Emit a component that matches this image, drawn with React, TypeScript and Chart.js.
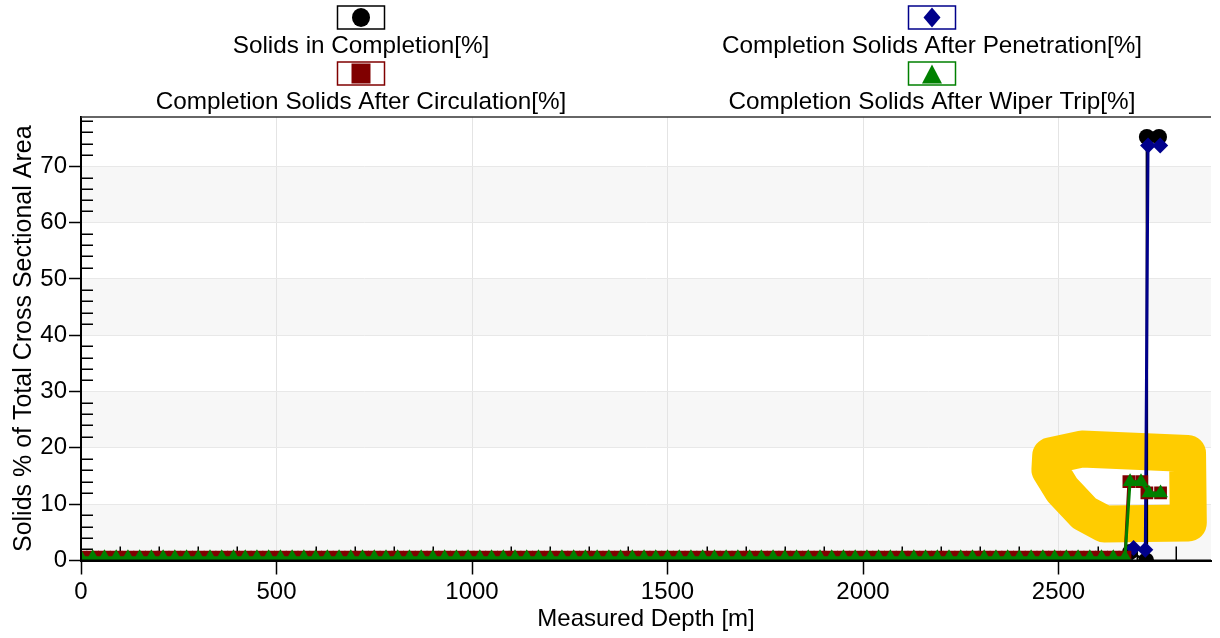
import { useEffect, useRef } from "react";
import { Chart, registerables } from "chart.js";

Chart.register(...registerables);

const FONT = "'Liberation Sans', Arial, Helvetica, sans-serif";

const legendLabels = [
  "Solids in Completion[%]",
  "Completion Solids After Penetration[%]",
  "Completion Solids After Circulation[%]",
  "Completion Solids After Wiper Trip[%]",
];
const seriesColors = ["#000000", "#00008b", "#800000", "#008000"];
const seriesStyles = ["circle", "rectRot", "rect", "triangle"];

const xTitle = "Measured Depth [m]";
const yTitle = "Solids % of Total Cross Sectional Area";

const xTicks = [0, 500, 1000, 1500, 2000, 2500];
const yTicks = [0, 10, 20, 30, 40, 50, 60, 70];
const xMinorTicks = [
  100, 200, 300, 400, 600, 700, 800, 900, 1100, 1200, 1300, 1400, 1600, 1700,
  1800, 1900, 2100, 2200, 2300, 2400, 2600, 2700, 2800,
];
const yMinorTicks = [
  2, 4, 6, 8, 12, 14, 16, 18, 22, 24, 26, 28, 32, 34, 36, 38, 42, 44, 46, 48,
  52, 54, 56, 58, 62, 64, 66, 68, 72, 74, 76, 78,
];
const shadedBandFrom = [0, 20, 40, 60];
const shadedBandTo = [10, 30, 50, 70];

// Measured depth of the regular sections [m]
const baseDepth = [
  0, 30, 60, 90, 120, 150, 180, 210, 240, 270,
  300, 330, 360, 390, 420, 450, 480, 510, 540, 570,
  600, 630, 660, 690, 720, 750, 780, 810, 840, 870,
  900, 930, 960, 990, 1020, 1050, 1080, 1110, 1140, 1170,
  1200, 1230, 1260, 1290, 1320, 1350, 1380, 1410, 1440, 1470,
  1500, 1530, 1560, 1590, 1620, 1650, 1680, 1710, 1740, 1770,
  1800, 1830, 1860, 1890, 1920, 1950, 1980, 2010, 2040, 2070,
  2100, 2130, 2160, 2190, 2220, 2250, 2280, 2310, 2340, 2370,
  2400, 2430, 2460, 2490, 2520, 2550, 2580, 2610, 2640, 2670,
];

// Solids in Completion [%]
const completionBase = [
  0, 0, 0, 0, 0, 0, 0, 0, 0, 0,
  0, 0, 0, 0, 0, 0, 0, 0, 0, 0,
  0, 0, 0, 0, 0, 0, 0, 0, 0, 0,
  0, 0, 0, 0, 0, 0, 0, 0, 0, 0,
  0, 0, 0, 0, 0, 0, 0, 0, 0, 0,
  0, 0, 0, 0, 0, 0, 0, 0, 0, 0,
  0, 0, 0, 0, 0, 0, 0, 0, 0, 0,
  0, 0, 0, 0, 0, 0, 0, 0, 0, 0,
  0, 0, 0, 0, 0, 0, 0, 0, 0, 0,
];
const completionTailDepth = [2683, 2724, 2726, 2757];
const completionTail = [1.5, 0, 75.2, 75.2];

// Completion Solids After Penetration [%]
const penetrationBase = [
  0, 0, 0, 0, 0, 0, 0, 0, 0, 0,
  0, 0, 0, 0, 0, 0, 0, 0, 0, 0,
  0, 0, 0, 0, 0, 0, 0, 0, 0, 0,
  0, 0, 0, 0, 0, 0, 0, 0, 0, 0,
  0, 0, 0, 0, 0, 0, 0, 0, 0, 0,
  0, 0, 0, 0, 0, 0, 0, 0, 0, 0,
  0, 0, 0, 0, 0, 0, 0, 0, 0, 0,
  0, 0, 0, 0, 0, 0, 0, 0, 0, 0,
  0, 0, 0, 0, 0, 0, 0, 0, 0, 0,
];
const penetrationTailDepth = [2692, 2722, 2729, 2760];
const penetrationTail = [2.2, 1.9, 73.7, 73.7];

// Completion Solids After Circulation [%]
const circulationBase = [
  0.6, 0.6, 0.6, 0.6, 0.6, 0.6, 0.6, 0.6, 0.6, 0.6,
  0.6, 0.6, 0.6, 0.6, 0.6, 0.6, 0.6, 0.6, 0.6, 0.6,
  0.6, 0.6, 0.6, 0.6, 0.6, 0.6, 0.6, 0.6, 0.6, 0.6,
  0.6, 0.6, 0.6, 0.6, 0.6, 0.6, 0.6, 0.6, 0.6, 0.6,
  0.6, 0.6, 0.6, 0.6, 0.6, 0.6, 0.6, 0.6, 0.6, 0.6,
  0.6, 0.6, 0.6, 0.6, 0.6, 0.6, 0.6, 0.6, 0.6, 0.6,
  0.6, 0.6, 0.6, 0.6, 0.6, 0.6, 0.6, 0.6, 0.6, 0.6,
  0.6, 0.6, 0.6, 0.6, 0.6, 0.6, 0.6, 0.6, 0.6, 0.6,
  0.6, 0.6, 0.6, 0.6, 0.6, 0.6, 0.6, 0.6, 0.6, 0.6,
];
const circulationTailDepth = [2680, 2713, 2726, 2761];
const circulationTail = [14, 14, 12, 12];

// Completion Solids After Wiper Trip [%]
const wiperTripBase = [
  0.5, 0.5, 0.5, 0.5, 0.5, 0.5, 0.5, 0.5, 0.5, 0.5,
  0.5, 0.5, 0.5, 0.5, 0.5, 0.5, 0.5, 0.5, 0.5, 0.5,
  0.5, 0.5, 0.5, 0.5, 0.5, 0.5, 0.5, 0.5, 0.5, 0.5,
  0.5, 0.5, 0.5, 0.5, 0.5, 0.5, 0.5, 0.5, 0.5, 0.5,
  0.5, 0.5, 0.5, 0.5, 0.5, 0.5, 0.5, 0.5, 0.5, 0.5,
  0.5, 0.5, 0.5, 0.5, 0.5, 0.5, 0.5, 0.5, 0.5, 0.5,
  0.5, 0.5, 0.5, 0.5, 0.5, 0.5, 0.5, 0.5, 0.5, 0.5,
  0.5, 0.5, 0.5, 0.5, 0.5, 0.5, 0.5, 0.5, 0.5, 0.5,
  0.5, 0.5, 0.5, 0.5, 0.5, 0.5, 0.5, 0.5, 0.5, 0.5,
];
const wiperTripTailDepth = [2683, 2711, 2731, 2761];
const wiperTripTail = [14, 14, 12, 12];

// Hand-drawn yellow highlight (in data units)
const highlightDepth = [2480, 2560, 2830, 2832, 2617, 2566, 2510, 2478];
const highlightValue = [18.6, 19.8, 19.0, 6.65, 6.5, 8.4, 12.5, 16.1];

function buildPoints(base: number[], tailDepth: number[], tail: number[]) {
  return [
    ...baseDepth.map((x, i) => ({ x, y: base[i] })),
    ...tailDepth.map((x, i) => ({ x, y: tail[i] })),
  ];
}

function drawLegendMarker(ctx: CanvasRenderingContext2D, style: string, cx: number, cy: number, color: string) {
  ctx.fillStyle = color;
  ctx.beginPath();
  if (style === "circle") {
    ctx.ellipse(cx, cy, 9, 9.5, 0, 0, Math.PI * 2);
  } else if (style === "rect") {
    ctx.rect(cx - 9.5, cy - 10, 19, 20);
  } else if (style === "rectRot") {
    ctx.moveTo(cx, cy - 10);
    ctx.lineTo(cx + 8.5, cy);
    ctx.lineTo(cx, cy + 10);
    ctx.lineTo(cx - 8.5, cy);
  } else {
    ctx.moveTo(cx, cy - 9);
    ctx.lineTo(cx + 10, cy + 10);
    ctx.lineTo(cx - 10, cy + 10);
  }
  ctx.closePath();
  ctx.fill();
}

const decorPlugin = {
  id: "decor",
  beforeDraw(chart: any) {
    const { ctx, chartArea: a, scales } = chart;
    const y = scales.y;
    ctx.save();
    ctx.fillStyle = "#ffffff";
    ctx.fillRect(0, 0, chart.width, chart.height);
    ctx.fillStyle = "#f7f7f7";
    shadedBandFrom.forEach((from, i) => {
      const y1 = y.getPixelForValue(shadedBandTo[i]);
      const y2 = y.getPixelForValue(from);
      ctx.fillRect(a.left, y1, a.right - a.left, y2 - y1);
    });
    ctx.restore();
  },
  beforeDatasetsDraw(chart: any) {
    const { ctx, chartArea: a, scales } = chart;
    const x = scales.x;
    const y = scales.y;
    ctx.save();
    // minor ticks
    ctx.strokeStyle = "#000";
    ctx.lineWidth = 1.5;
    ctx.beginPath();
    xMinorTicks.forEach((v) => {
      const px = Math.round(x.getPixelForValue(v)) + 0.25;
      ctx.moveTo(px, a.bottom);
      ctx.lineTo(px, a.bottom - 14);
    });
    yMinorTicks.forEach((v) => {
      const py = Math.round(y.getPixelForValue(v)) + 0.25;
      ctx.moveTo(a.left, py);
      ctx.lineTo(a.left + 12, py);
    });
    ctx.stroke();
    // yellow highlight
    ctx.strokeStyle = "#ffcc00";
    ctx.lineWidth = 37;
    ctx.lineJoin = "round";
    ctx.lineCap = "round";
    ctx.beginPath();
    highlightDepth.forEach((d, i) => {
      const px = x.getPixelForValue(d);
      const py = y.getPixelForValue(highlightValue[i]);
      if (i === 0) ctx.moveTo(px, py);
      else ctx.lineTo(px, py);
    });
    ctx.closePath();
    ctx.stroke();
    ctx.restore();
  },
  afterDraw(chart: any) {
    const { ctx, chartArea: a } = chart;
    ctx.save();
    // axes and frame
    ctx.strokeStyle = "#000";
    ctx.lineWidth = 2;
    ctx.beginPath();
    ctx.moveTo(a.left, a.top);
    ctx.lineTo(a.left, a.bottom);
    ctx.lineTo(a.right, a.bottom);
    ctx.stroke();
    ctx.strokeStyle = "#333";
    ctx.lineWidth = 1.5;
    ctx.beginPath();
    ctx.moveTo(a.left, a.top);
    ctx.lineTo(a.right, a.top);
    ctx.stroke();

    // legend
    const mid = (a.left + a.right) / 2;
    const colCenters = [mid - 285, mid + 286];
    const boxTops = [6, 62];
    const textYs = [46, 102];
    const boxW = 47;
    const boxH = 23;
    ctx.font = `24.3px ${FONT}`;
    ctx.textAlign = "center";
    ctx.textBaseline = "middle";
    legendLabels.forEach((label, i) => {
      const col = i % 2;
      const row = Math.floor(i / 2);
      const cx = colCenters[col];
      const top = boxTops[row];
      ctx.fillStyle = "#fff";
      ctx.fillRect(cx - boxW / 2, top, boxW, boxH);
      ctx.strokeStyle = seriesColors[i];
      ctx.lineWidth = 1.5;
      ctx.strokeRect(cx - boxW / 2, top, boxW, boxH);
      drawLegendMarker(ctx, seriesStyles[i], cx, top + boxH / 2, seriesColors[i]);
      ctx.fillStyle = "#000";
      ctx.fillText(label, cx, textYs[row]);
    });
    ctx.restore();
  },
};

export default function App() {
  const ref = useRef<HTMLCanvasElement | null>(null);

  useEffect(() => {
    const canvas = ref.current;
    if (!canvas) return;
    Chart.defaults.font.family = FONT;
    Chart.defaults.font.size = 24;
    Chart.defaults.color = "#000";

    const mk = (i: number, data: any[], order: number, lineWidth: number, radius: number) => ({
      label: legendLabels[i],
      data,
      order,
      borderColor: seriesColors[i],
      backgroundColor: seriesColors[i],
      pointBackgroundColor: seriesColors[i],
      pointBorderColor: seriesColors[i],
      pointBorderWidth: 0,
      pointStyle: seriesStyles[i],
      pointRadius: radius,
      borderWidth: lineWidth,
      fill: false,
      tension: 0,
      clip: 0,
    });

    const chart = new Chart(canvas, {
      type: "line",
      data: {
        datasets: [
          mk(0, buildPoints(completionBase, completionTailDepth, completionTail), 3, 2.5, 8),
          mk(1, buildPoints(penetrationBase, penetrationTailDepth, penetrationTail), 2, 3, 8),
          mk(2, buildPoints(circulationBase, circulationTailDepth, circulationTail), 1, 3, 9),
          mk(3, buildPoints(wiperTripBase, wiperTripTailDepth, wiperTripTail), 0, 3, 8.5),
        ] as any,
      },
      options: {
        animation: false,
        responsive: false,
        devicePixelRatio: 1,
        layout: { padding: { top: 117, left: 0, right: 0, bottom: 0 } },
        plugins: {
          legend: { display: false },
          tooltip: { enabled: false },
        },
        scales: {
          x: {
            type: "linear",
            min: 0,
            max: 2890,
            afterBuildTicks: (s: any) => {
              s.ticks = xTicks.map((v) => ({ value: v }));
            },
            afterFit: (s: any) => {
              s.height = 77.5;
            },
            grid: {
              color: "#e4e4e4",
              lineWidth: 1,
              tickColor: "#000",
              tickLength: 14,
              tickWidth: 1.5,
            },
            border: { color: "#000", width: 2 },
            ticks: {
              color: "#000",
              font: { size: 24, family: FONT },
              padding: 3,
              maxRotation: 0,
              autoSkip: false,
              callback: (v: any) => String(v),
            },
            title: {
              display: true,
              text: xTitle,
              color: "#000",
              font: { size: 24, family: FONT },
              padding: { top: 0, bottom: 4.6 },
            },
          },
          y: {
            type: "linear",
            min: 0,
            max: 78.75,
            afterBuildTicks: (s: any) => {
              s.ticks = yTicks.map((v) => ({ value: v }));
            },
            afterFit: (s: any) => {
              s.width = 81;
            },
            grid: {
              color: "#e8e8e8",
              lineWidth: 1,
              tickColor: "#000",
              tickLength: 12,
              tickWidth: 1.5,
            },
            border: { color: "#000", width: 2 },
            ticks: {
              color: "#000",
              font: { size: 24, family: FONT },
              padding: 2,
              callback: (v: any) => String(v),
            },
            title: {
              display: true,
              text: yTitle,
              color: "#000",
              font: { size: 25, family: FONT },
              padding: { top: 9, bottom: 0 },
            },
          },
        },
      } as any,
      plugins: [decorPlugin],
    });

    return () => {
      chart.destroy();
    };
  }, []);

  return (
    <div style={{ position: "absolute", left: 0, top: 0, width: 1220, height: 638, background: "#fff" }}>
      <canvas ref={ref} width={1220} height={638} style={{ display: "block", width: 1220, height: 638 }} />
    </div>
  );
}
